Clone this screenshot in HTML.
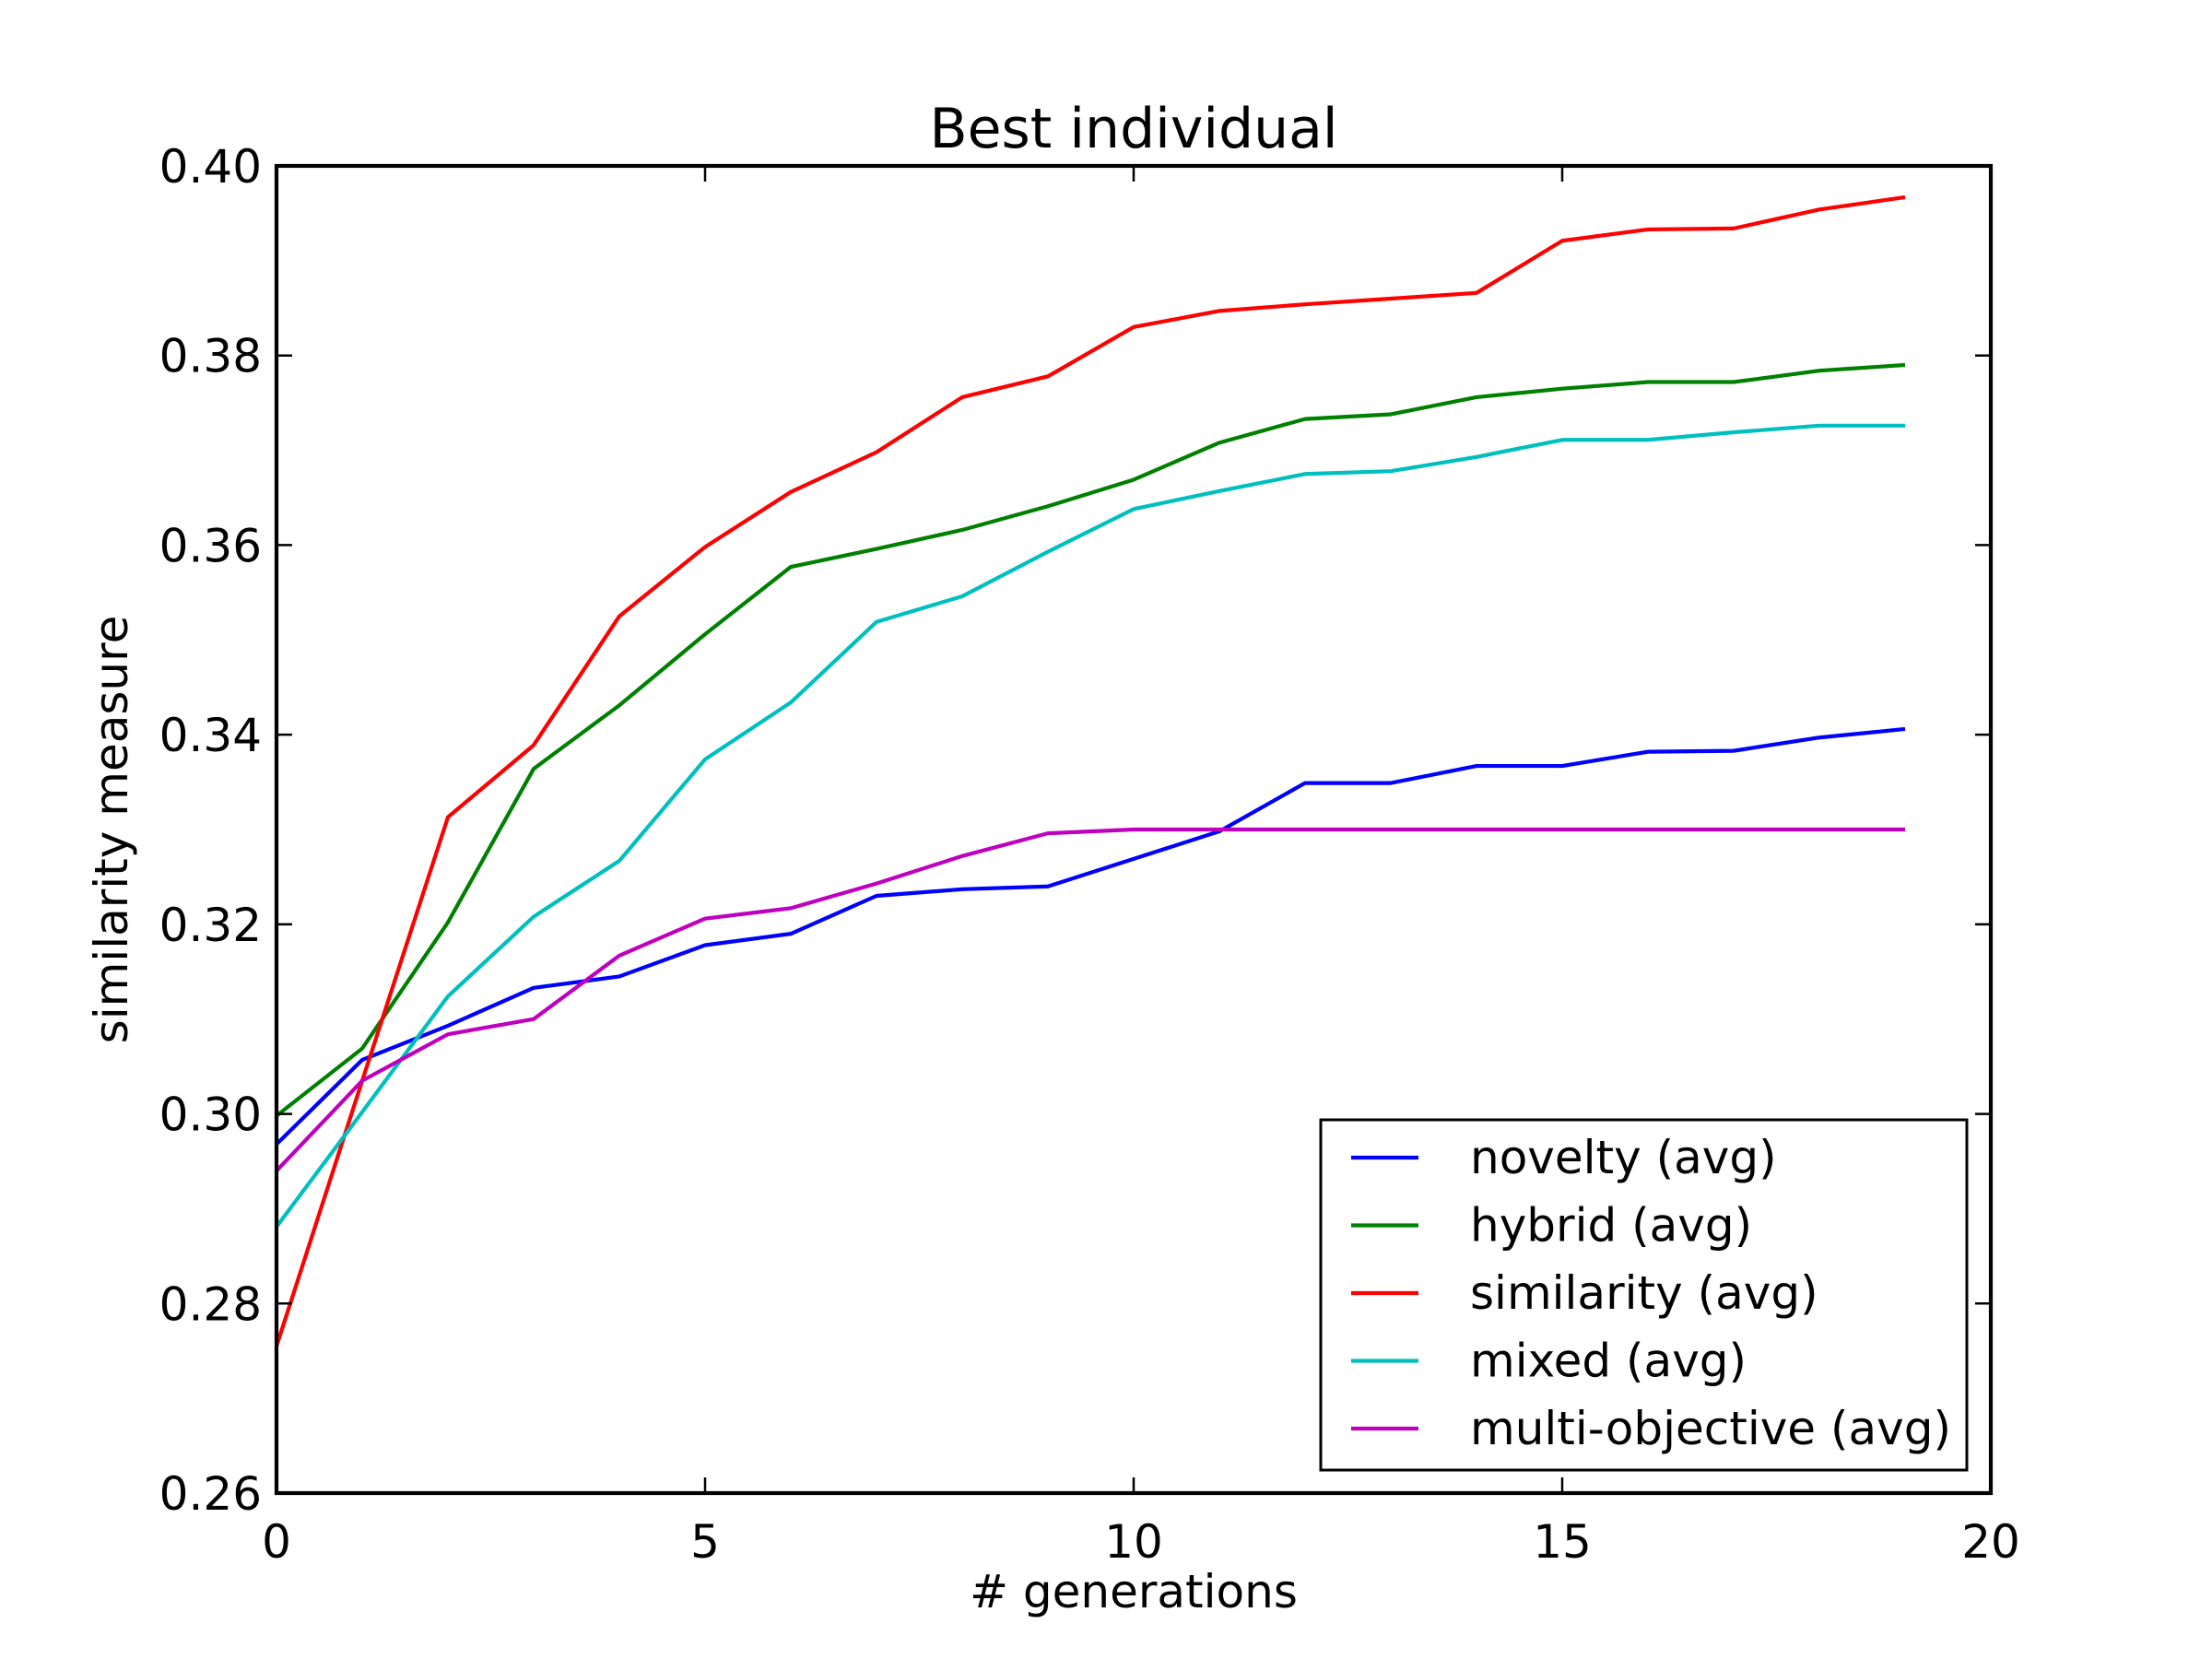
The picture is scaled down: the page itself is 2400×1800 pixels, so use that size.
<!DOCTYPE html>
<html><head><meta charset="utf-8"><style>html,body{margin:0;padding:0;background:#fff}svg{display:block}text{font-family:"DejaVu Sans","Liberation Sans",sans-serif;fill:#000}</style></head>
<body>
<svg id="chart" width="2400" height="1800" viewBox="0 0 2400 1800" xmlns="http://www.w3.org/2000/svg">
<rect width="2400" height="1800" fill="#fff"/>
<g id="plot"></g>
</svg>
<script>
const generations = [0,1,2,3,4,5,6,7,8,9,10,11,12,13,14,15,16,17,18,19];
const novelty = [0.2968,0.3057,0.3093,0.3133,0.3145,0.3178,0.3190,0.3230,0.3237,0.3240,0.3269,0.3298,0.3349,0.3349,0.3367,0.3367,0.3382,0.3383,0.3397,0.3406];
const hybrid = [0.2998,0.3069,0.3202,0.3364,0.3431,0.3506,0.3577,0.3596,0.3616,0.3641,0.3669,0.3708,0.3733,0.3738,0.3756,0.3765,0.3772,0.3772,0.3784,0.3790];
const similarity = [0.2755,0.3035,0.3313,0.3389,0.3525,0.3598,0.3656,0.3698,0.3756,0.3778,0.3830,0.3847,0.3854,0.3860,0.3866,0.3921,0.3933,0.3934,0.3954,0.3967];
const mixed = [0.2881,0.3002,0.3124,0.3208,0.3267,0.3374,0.3434,0.3519,0.3546,0.3593,0.3638,0.3657,0.3675,0.3678,0.3693,0.3711,0.3711,0.3719,0.3726,0.3726];
const multiObjective = [0.2940,0.3035,0.3084,0.3100,0.3167,0.3206,0.3217,0.3243,0.3272,0.3296,0.3300,0.3300,0.3300,0.3300,0.3300,0.3300,0.3300,0.3300,0.3300,0.3300];
const xTicks = [0,5,10,15,20];
const yTicks = [0.26,0.28,0.30,0.32,0.34,0.36,0.38,0.40];
const yTickLabels = ["0.26","0.28","0.30","0.32","0.34","0.36","0.38","0.40"];
const seriesNames = ["novelty (avg)","hybrid (avg)","similarity (avg)","mixed (avg)","multi-objective (avg)"];

const L=300,R=2160,T=180,B=1620;
const xScale=v=>L+(v-0)/(20-0)*(R-L);
const yScale=v=>B-(v-0.26)/(0.40-0.26)*(B-T);
const NS="http://www.w3.org/2000/svg";
const g=document.getElementById('plot');
function mk(tag,attrs,parent){const e=document.createElementNS(NS,tag);for(const k in attrs)e.setAttribute(k,attrs[k]);(parent||g).appendChild(e);return e;}

const series=[[novelty,'#0000ff','novelty-line'],[hybrid,'#008000','hybrid-line'],[similarity,'#ff0000','similarity-line'],[mixed,'#00bfbf','mixed-line'],[multiObjective,'#bf00bf','multi-objective-line']];
series.forEach(s=>{
  const p=mk('polyline',{points:generations.map((x,i)=>xScale(x)+','+yScale(s[0][i])).join(' '),fill:'none',stroke:s[1],'stroke-width':4.2,'stroke-linejoin':'round'});
  
  
});

xTicks.forEach(v=>{
  const x=xScale(v);
  const t1=mk('line',{x1:x,x2:x,y1:B,y2:B-17,stroke:'#000','stroke-width':2.5});
  
  
  const t2=mk('line',{x1:x,x2:x,y1:T,y2:T+17,stroke:'#000','stroke-width':2.5});
  
  
  const lb=mk('text',{x:x,y:1690,'font-size':50,'text-anchor':'middle'});
  lb.textContent=String(v);
  
  
});
yTicks.forEach((v,i)=>{
  const y=yScale(v);
  const t1=mk('line',{x1:L,x2:L+17,y1:y,y2:y,stroke:'#000','stroke-width':2.5});
  
  
  const t2=mk('line',{x1:R,x2:R-17,y1:y,y2:y,stroke:'#000','stroke-width':2.5});
  
  
  const lb=mk('text',{x:284,y:y+18,'font-size':50,'text-anchor':'end'});
  lb.textContent=yTickLabels[i];
  
  
});
const frame=mk('rect',{x:L,y:T,width:R-L,height:B-T,fill:'none',stroke:'#000','stroke-width':4.2});



const title=mk('text',{x:1230,y:160,'font-size':60,'text-anchor':'middle'});
title.textContent='Best individual';


const xl=mk('text',{x:1230,y:1744,'font-size':50,'text-anchor':'middle'});
xl.textContent='# generations';


const yl=mk('text',{x:0,y:0,'font-size':50,'text-anchor':'middle',transform:'translate(138,900) rotate(-90)'});
yl.textContent='similarity measure';



const lg=mk('g',{});


const lbox=mk('rect',{x:1433,y:1215,width:701,height:380,fill:'#fff',stroke:'#000','stroke-width':3},lg);


series.forEach((s,i)=>{
  const y=1256+i*73.5;
  const ln=mk('line',{x1:1466,x2:1539,y1:y,y2:y,stroke:s[1],'stroke-width':4.2},lg);
  
  
  const tx=mk('text',{x:1595,y:y+17,'font-size':50},lg);
  tx.textContent=seriesNames[i];
  
  
});
</script>
</body></html>
